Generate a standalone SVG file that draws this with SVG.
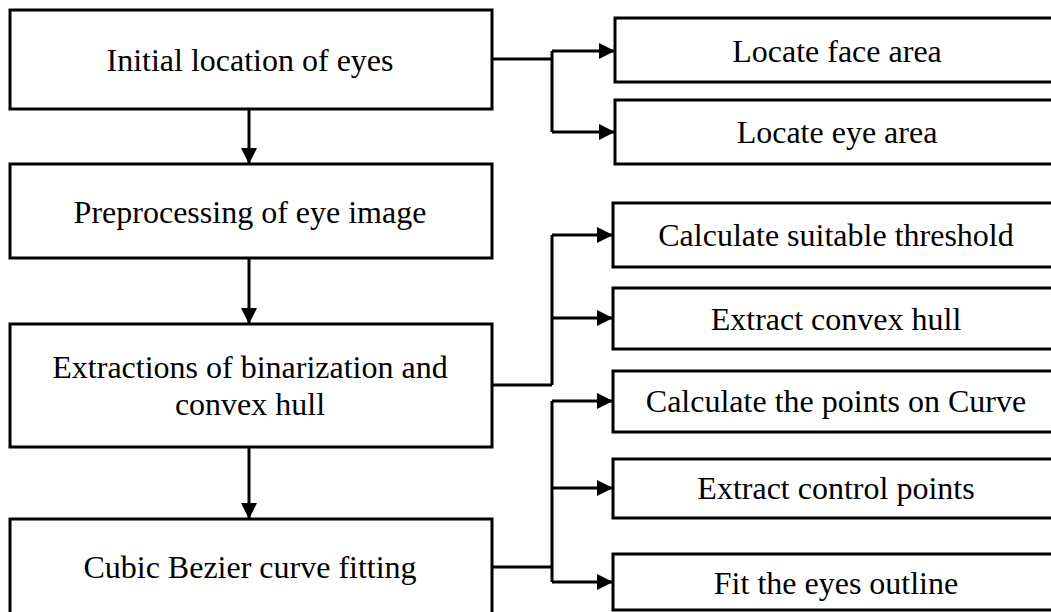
<svg xmlns="http://www.w3.org/2000/svg" width="1051" height="612" viewBox="0 0 1051 612">
<style>
.box{fill:#fff;stroke:#000;stroke-width:3}
.lbl{font-family:"Liberation Serif","Times New Roman",serif;font-size:32px;fill:#000;text-anchor:middle}
.ln{fill:none;stroke:#000;stroke-width:3}
</style>
<defs>
<marker id="ah" viewBox="0 0 16 16" refX="16" refY="8" markerWidth="16" markerHeight="16" markerUnits="userSpaceOnUse" orient="auto">
<path d="M0,0 L16,8 L0,16 z" fill="#000"/>
</marker>
</defs>
<rect width="1051" height="612" fill="#fff"/>
<g id="n1"><rect class="box" x="10" y="10" width="482" height="99"/><text class="lbl" x="250" y="71">Initial location of eyes</text></g>
<g id="n2"><rect class="box" x="10" y="164" width="482" height="94"/><text class="lbl" x="250" y="223">Preprocessing of eye image</text></g>
<g id="n3"><rect class="box" x="10" y="324" width="482" height="123"/><text class="lbl" x="250" y="378">Extractions of binarization and</text><text class="lbl" x="250" y="415">convex hull</text></g>
<g id="n4"><rect class="box" x="10" y="519" width="482" height="100"/><text class="lbl" x="250" y="578">Cubic Bezier curve fitting</text></g>
<g id="r1"><rect class="box" x="615" y="18" width="450" height="64"/><text class="lbl" x="837" y="62">Locate face area</text></g>
<g id="r2"><rect class="box" x="615" y="100" width="450" height="64"/><text class="lbl" x="837" y="143">Locate eye area</text></g>
<g id="r3"><rect class="box" x="613" y="203" width="452" height="64"/><text class="lbl" x="836" y="246">Calculate suitable threshold</text></g>
<g id="r4"><rect class="box" x="613" y="288" width="452" height="61"/><text class="lbl" x="836" y="330">Extract convex hull</text></g>
<g id="r5"><rect class="box" x="613" y="371" width="452" height="61"/><text class="lbl" x="836" y="412">Calculate the points on Curve</text></g>
<g id="r6"><rect class="box" x="613" y="459" width="452" height="59"/><text class="lbl" x="836" y="499">Extract control points</text></g>
<g id="r7"><rect class="box" x="613" y="554" width="452" height="56"/><text class="lbl" x="836" y="594">Fit the eyes outline</text></g>
<g id="connectors">
<path class="ln" d="M249,109 V164" marker-end="url(#ah)"/>
<path class="ln" d="M249,258 V324" marker-end="url(#ah)"/>
<path class="ln" d="M249,447 V519" marker-end="url(#ah)"/>
<path class="ln" d="M492,59 H552"/>
<path class="ln" d="M552,51 V132"/>
<path class="ln" d="M552,51 H615" marker-end="url(#ah)"/>
<path class="ln" d="M552,132 H615" marker-end="url(#ah)"/>
<path class="ln" d="M492,385 H552"/>
<path class="ln" d="M552,235 V385"/>
<path class="ln" d="M552,235 H613" marker-end="url(#ah)"/>
<path class="ln" d="M552,318 H613" marker-end="url(#ah)"/>
<path class="ln" d="M492,567 H552"/>
<path class="ln" d="M552,401 V582"/>
<path class="ln" d="M552,401 H613" marker-end="url(#ah)"/>
<path class="ln" d="M552,488 H613" marker-end="url(#ah)"/>
<path class="ln" d="M552,582 H613" marker-end="url(#ah)"/>
</g>
</svg>
